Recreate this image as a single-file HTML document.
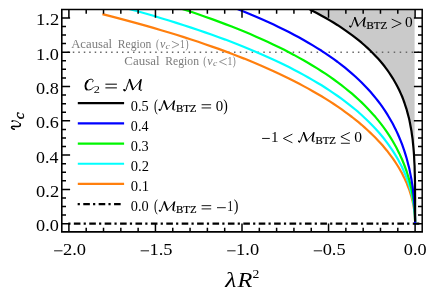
<!DOCTYPE html>
<html><head><meta charset="utf-8"><title>plot</title>
<style>html,body{margin:0;padding:0;background:#fff;overflow:hidden}body{width:427px;height:298px}text{white-space:pre}</style></head>
<body>
<svg width="427" height="298" viewBox="0 0 427 298" style="display:block;will-change:transform">
<rect width="427" height="298" fill="#fff"/>
<defs><clipPath id="ax"><rect x="61.8" y="9.5" width="360.4" height="222.4"/></clipPath></defs>
<g clip-path="url(#ax)">
<path d="M103.5,-57.3 112.2,-55.3 120.7,-53.3 129.1,-51.3 137.4,-49.3 145.5,-47.3 153.4,-45.3 161.2,-43.3 168.9,-41.2 176.4,-39.2 183.8,-37.1 191.1,-35.1 198.2,-33.0 205.1,-30.9 212.0,-28.8 218.7,-26.7 225.3,-24.6 231.7,-22.4 238.0,-20.3 244.2,-18.2 250.2,-16.0 256.1,-13.8 261.9,-11.6 267.5,-9.4 273.1,-7.2 278.5,-5.0 283.7,-2.8 288.9,-0.5 293.9,1.8 298.8,4.0 303.6,6.3 308.3,8.6 312.8,11.0 317.2,13.3 321.6,15.7 325.8,18.0 329.8,20.4 333.8,22.8 337.7,25.2 341.4,27.7 345.0,30.1 348.5,32.6 352.0,35.1 355.3,37.6 358.5,40.2 361.6,42.7 364.5,45.3 367.4,47.9 370.2,50.5 372.9,53.2 375.5,55.9 378.0,58.6 380.4,61.3 382.7,64.0 384.9,66.8 387.0,69.6 389.0,72.5 390.9,75.4 392.8,78.3 394.5,81.2 396.2,84.2 397.8,87.2 399.3,90.3 400.7,93.4 402.1,96.5 403.3,99.7 404.5,103.0 405.6,106.3 406.7,109.7 407.6,113.1 408.5,116.6 409.4,120.1 410.1,123.7 410.8,127.5 411.5,131.3 412.0,135.2 412.6,139.2 413.0,143.3 413.4,147.5 413.8,151.9 414.1,156.5 414.3,161.2 414.6,166.2 414.6,171.5 414.6,177.1 414.6,183.1 414.6,189.8 414.6,197.4 414.6,206.6 414.6,223.6 L414.6,4.5 L103.5,4.5 Z" fill="#cacaca"/>
<path d="M67.5,52.25h1.5 M72.8,52.25h1.5 M78.3,52.25h1.5 M83.8,52.25h1.5 M89.2,52.25h1.5 M94.7,52.25h1.5 M100.1,52.25h1.5 M105.6,52.25h1.5 M111.1,52.25h1.5 M116.5,52.25h1.5 M122.0,52.25h1.5 M127.4,52.25h1.5 M133.0,52.25h1.5 M138.6,52.25h1.5 M144.1,52.25h1.5 M149.7,52.25h1.5 M155.2,52.25h1.5 M160.8,52.25h1.5 M166.4,52.25h1.5 M171.9,52.25h1.5 M177.5,52.25h1.5 M183.1,52.25h1.5 M188.6,52.25h1.5 M194.2,52.25h1.5 M199.7,52.25h1.5 M205.3,52.25h1.5 M210.8,52.25h1.5 M216.3,52.25h1.5 M222.2,52.25h1.5 M228.1,52.25h1.5 M234.0,52.25h1.5 M239.8,52.25h1.5 M245.7,52.25h1.5 M251.6,52.25h1.5 M257.4,52.25h1.5 M263.3,52.25h1.5 M269.2,52.25h1.5 M275.1,52.25h1.5 M280.9,52.25h1.5 M286.8,52.25h1.5 M292.7,52.25h1.5 M298.6,52.25h1.5 M304.6,52.25h1.5 M310.6,52.25h1.5 M316.6,52.25h1.5 M322.5,52.25h1.5 M328.5,52.25h1.5 M334.5,52.25h1.5 M340.4,52.25h1.5 M346.4,52.25h1.5 M352.4,52.25h1.5 M357.9,52.25h1.5 M363.8,52.25h1.5 M369.8,52.25h1.5 M375.8,52.25h1.5 M381.8,52.25h1.5 M387.7,52.25h1.5 M393.7,52.25h1.5 M399.7,52.25h1.5 M405.7,52.25h1.5 M411.6,52.25h1.5 M417.6,52.25h1.5" stroke="#686868" stroke-width="1.5" fill="none"/>
<line x1="68.25" y1="223.65" x2="422.2" y2="223.65" stroke="#000" stroke-width="2.2" stroke-dasharray="6.6 3.2 2.2 3.405" stroke-dashoffset="9.8"/>
<path d="M103.5,14.4 112.2,16.6 120.7,18.9 129.1,21.1 137.4,23.4 145.5,25.6 153.4,27.9 161.2,30.2 168.9,32.5 176.4,34.8 183.8,37.1 191.1,39.5 198.2,41.8 205.1,44.2 212.0,46.6 218.7,48.9 225.3,51.4 231.7,53.8 238.0,56.2 244.2,58.6 250.2,61.1 256.1,63.5 261.9,66.0 267.5,68.5 273.1,70.9 278.5,73.4 283.7,75.9 288.9,78.5 293.9,81.0 298.8,83.5 303.6,86.1 308.3,88.6 312.8,91.2 317.2,93.7 321.6,96.3 325.8,98.9 329.8,101.4 333.8,104.0 337.7,106.6 341.4,109.2 345.0,111.8 348.5,114.4 352.0,117.0 355.3,119.6 358.5,122.2 361.6,124.8 364.5,127.4 367.4,130.0 370.2,132.6 372.9,135.2 375.5,137.8 378.0,140.4 380.4,143.0 382.7,145.6 384.9,148.2 387.0,150.7 389.0,153.3 390.9,155.9 392.8,158.4 394.5,160.9 396.2,163.5 397.8,166.0 399.3,168.5 400.7,171.0 402.1,173.4 403.3,175.9 404.5,178.3 405.6,180.7 406.7,183.1 407.6,185.5 408.5,187.8 409.4,190.1 410.1,192.4 410.8,194.7 411.5,196.9 412.0,199.1 412.6,201.2 413.0,203.4 413.4,205.4 413.8,207.5 414.1,209.4 414.3,211.4 414.6,213.2 414.7,215.0 414.9,216.8 415.0,218.4 415.0,220.0 415.1,221.4 415.1,222.6 415.1,223.6" fill="none" stroke="#ff7f0e" stroke-width="2.2" stroke-linejoin="round" stroke-linecap="square"/>
<path d="M103.5,2.1 112.2,4.4 120.7,6.6 129.1,8.9 137.4,11.2 145.5,13.5 153.4,15.8 161.2,18.2 168.9,20.5 176.4,22.9 183.8,25.2 191.1,27.6 198.2,30.0 205.1,32.4 212.0,34.8 218.7,37.2 225.3,39.6 231.7,42.1 238.0,44.5 244.2,47.0 250.2,49.5 256.1,52.0 261.9,54.5 267.5,57.0 273.1,59.5 278.5,62.0 283.7,64.6 288.9,67.1 293.9,69.7 298.8,72.3 303.6,74.9 308.3,77.5 312.8,80.1 317.2,82.7 321.6,85.3 325.8,88.0 329.8,90.6 333.8,93.3 337.7,96.0 341.4,98.7 345.0,101.4 348.5,104.1 352.0,106.8 355.3,109.5 358.5,112.2 361.6,115.0 364.5,117.7 367.4,120.5 370.2,123.2 372.9,126.0 375.5,128.7 378.0,131.5 380.4,134.3 382.7,137.0 384.9,139.8 387.0,142.6 389.0,145.3 390.9,148.1 392.8,150.9 394.5,153.6 396.2,156.4 397.8,159.1 399.3,161.9 400.7,164.6 402.1,167.3 403.3,170.0 404.5,172.7 405.6,175.4 406.7,178.0 407.6,180.7 408.5,183.3 409.4,185.9 410.1,188.4 410.8,191.0 411.5,193.5 412.0,195.9 412.6,198.3 413.0,200.7 413.4,203.1 413.8,205.4 414.1,207.6 414.3,209.8 414.6,211.9 414.7,213.9 414.9,215.9 415.0,217.8 415.0,219.5 415.1,221.1 415.1,222.5 415.1,223.6" fill="none" stroke="#00ffff" stroke-width="2.2" stroke-linejoin="round" stroke-linecap="square"/>
<path d="M103.5,-14.1 112.2,-11.8 120.7,-9.5 129.1,-7.2 137.4,-4.9 145.5,-2.5 153.4,-0.2 161.2,2.2 168.9,4.6 176.4,7.0 183.8,9.4 191.1,11.8 198.2,14.2 205.1,16.7 212.0,19.1 218.7,21.6 225.3,24.1 231.7,26.6 238.0,29.1 244.2,31.6 250.2,34.1 256.1,36.7 261.9,39.2 267.5,41.8 273.1,44.4 278.5,47.0 283.7,49.6 288.9,52.3 293.9,54.9 298.8,57.6 303.6,60.3 308.3,63.0 312.8,65.7 317.2,68.4 321.6,71.2 325.8,73.9 329.8,76.7 333.8,79.5 337.7,82.3 341.4,85.1 345.0,88.0 348.5,90.8 352.0,93.7 355.3,96.6 358.5,99.5 361.6,102.4 364.5,105.3 367.4,108.3 370.2,111.2 372.9,114.2 375.5,117.1 378.0,120.1 380.4,123.1 382.7,126.1 384.9,129.1 387.0,132.2 389.0,135.2 390.9,138.2 392.8,141.3 394.5,144.3 396.2,147.3 397.8,150.4 399.3,153.4 400.7,156.5 402.1,159.5 403.3,162.5 404.5,165.5 405.6,168.5 406.7,171.5 407.6,174.5 408.5,177.4 409.4,180.4 410.1,183.3 410.8,186.2 411.5,189.0 412.0,191.8 412.6,194.6 413.0,197.3 413.4,200.0 413.8,202.6 414.1,205.2 414.3,207.7 414.6,210.1 414.7,212.5 414.9,214.7 415.0,216.9 415.0,218.9 415.1,220.7 415.1,222.4 415.1,223.6" fill="none" stroke="#00f600" stroke-width="2.2" stroke-linejoin="round" stroke-linecap="square"/>
<path d="M103.5,-32.8 112.2,-30.6 120.7,-28.3 129.1,-26.1 137.4,-23.8 145.5,-21.5 153.4,-19.3 161.2,-17.0 168.9,-14.6 176.4,-12.3 183.8,-10.0 191.1,-7.6 198.2,-5.3 205.1,-2.9 212.0,-0.5 218.7,1.9 225.3,4.3 231.7,6.8 238.0,9.2 244.2,11.7 250.2,14.2 256.1,16.7 261.9,19.2 267.5,21.7 273.1,24.3 278.5,26.9 283.7,29.4 288.9,32.0 293.9,34.7 298.8,37.3 303.6,40.0 308.3,42.7 312.8,45.4 317.2,48.1 321.6,50.8 325.8,53.6 329.8,56.4 333.8,59.2 337.7,62.0 341.4,64.9 345.0,67.7 348.5,70.6 352.0,73.6 355.3,76.5 358.5,79.5 361.6,82.5 364.5,85.5 367.4,88.5 370.2,91.6 372.9,94.7 375.5,97.9 378.0,101.0 380.4,104.2 382.7,107.4 384.9,110.6 387.0,113.9 389.0,117.2 390.9,120.5 392.8,123.8 394.5,127.2 396.2,130.6 397.8,134.0 399.3,137.5 400.7,140.9 402.1,144.4 403.3,147.9 404.5,151.4 405.6,154.9 406.7,158.5 407.6,162.0 408.5,165.5 409.4,169.1 410.1,172.6 410.8,176.1 411.5,179.7 412.0,183.1 412.6,186.6 413.0,190.0 413.4,193.4 413.8,196.7 414.1,200.0 414.3,203.2 414.6,206.3 414.7,209.3 414.9,212.2 415.0,214.9 415.0,217.5 415.1,219.9 415.1,222.0 415.1,223.6" fill="none" stroke="#0000ff" stroke-width="2.2" stroke-linejoin="round" stroke-linecap="square"/>
<path d="M103.5,-57.3 112.2,-55.3 120.7,-53.3 129.1,-51.3 137.4,-49.3 145.5,-47.3 153.4,-45.3 161.2,-43.3 168.9,-41.2 176.4,-39.2 183.8,-37.1 191.1,-35.1 198.2,-33.0 205.1,-30.9 212.0,-28.8 218.7,-26.7 225.3,-24.6 231.7,-22.4 238.0,-20.3 244.2,-18.2 250.2,-16.0 256.1,-13.8 261.9,-11.6 267.5,-9.4 273.1,-7.2 278.5,-5.0 283.7,-2.8 288.9,-0.5 293.9,1.8 298.8,4.0 303.6,6.3 308.3,8.6 312.8,11.0 317.2,13.3 321.6,15.7 325.8,18.0 329.8,20.4 333.8,22.8 337.7,25.2 341.4,27.7 345.0,30.1 348.5,32.6 352.0,35.1 355.3,37.6 358.5,40.2 361.6,42.7 364.5,45.3 367.4,47.9 370.2,50.5 372.9,53.2 375.5,55.9 378.0,58.6 380.4,61.3 382.7,64.0 384.9,66.8 387.0,69.6 389.0,72.5 390.9,75.4 392.8,78.3 394.5,81.2 396.2,84.2 397.8,87.2 399.3,90.3 400.7,93.4 402.1,96.5 403.3,99.7 404.5,103.0 405.6,106.3 406.7,109.7 407.6,113.1 408.5,116.6 409.4,120.1 410.1,123.7 410.8,127.5 411.5,131.3 412.0,135.2 412.6,139.2 413.0,143.3 413.4,147.5 413.8,151.9 414.1,156.5 414.3,161.2 414.6,166.2 414.7,171.5 414.9,177.1 415.0,183.1 415.0,189.8 415.1,197.4 415.1,206.6 415.1,220.6" fill="none" stroke="#000000" stroke-width="2.2" stroke-linejoin="round" stroke-linecap="square"/>
</g>
<path d="M68.90,231.9v-8.3M68.90,9.5v8.3M86.21,231.9v-4.2M86.21,9.5v4.2M103.52,231.9v-4.2M103.52,9.5v4.2M120.83,231.9v-4.2M120.83,9.5v4.2M138.14,231.9v-4.2M138.14,9.5v4.2M155.45,231.9v-8.3M155.45,9.5v8.3M172.76,231.9v-4.2M172.76,9.5v4.2M190.07,231.9v-4.2M190.07,9.5v4.2M207.38,231.9v-4.2M207.38,9.5v4.2M224.69,231.9v-4.2M224.69,9.5v4.2M242.00,231.9v-8.3M242.00,9.5v8.3M259.31,231.9v-4.2M259.31,9.5v4.2M276.62,231.9v-4.2M276.62,9.5v4.2M293.93,231.9v-4.2M293.93,9.5v4.2M311.24,231.9v-4.2M311.24,9.5v4.2M328.55,231.9v-8.3M328.55,9.5v8.3M345.86,231.9v-4.2M345.86,9.5v4.2M363.17,231.9v-4.2M363.17,9.5v4.2M380.48,231.9v-4.2M380.48,9.5v4.2M397.79,231.9v-4.2M397.79,9.5v4.2M415.10,231.9v-8.3M415.10,9.5v8.3M61.8,223.70h8.3M422.2,223.70h-8.3M61.8,215.12h4.2M422.2,215.12h-4.2M61.8,206.55h4.2M422.2,206.55h-4.2M61.8,197.97h4.2M422.2,197.97h-4.2M61.8,189.40h8.3M422.2,189.40h-8.3M61.8,180.82h4.2M422.2,180.82h-4.2M61.8,172.25h4.2M422.2,172.25h-4.2M61.8,163.67h4.2M422.2,163.67h-4.2M61.8,155.10h8.3M422.2,155.10h-8.3M61.8,146.52h4.2M422.2,146.52h-4.2M61.8,137.95h4.2M422.2,137.95h-4.2M61.8,129.38h4.2M422.2,129.38h-4.2M61.8,120.80h8.3M422.2,120.80h-8.3M61.8,112.22h4.2M422.2,112.22h-4.2M61.8,103.65h4.2M422.2,103.65h-4.2M61.8,95.07h4.2M422.2,95.07h-4.2M61.8,86.50h8.3M422.2,86.50h-8.3M61.8,77.92h4.2M422.2,77.92h-4.2M61.8,69.35h4.2M422.2,69.35h-4.2M61.8,60.77h4.2M422.2,60.77h-4.2M61.8,52.20h8.3M422.2,52.20h-8.3M61.8,43.62h4.2M422.2,43.62h-4.2M61.8,35.05h4.2M422.2,35.05h-4.2M61.8,26.47h4.2M422.2,26.47h-4.2M61.8,17.90h8.3M422.2,17.90h-8.3" stroke="#000" stroke-width="1.5" fill="none"/>
<path d="M61.0,9.5H422.95" stroke="#000" stroke-width="1.4"/><path d="M61.0,231.9H422.95" stroke="#000" stroke-width="1.6"/><path d="M61.8,9.5V231.9" stroke="#000" stroke-width="1.6"/><path d="M422.2,9.5V231.9" stroke="#000" stroke-width="1.5"/>
<g style="font-family:'Liberation Serif',serif;font-kerning:none" fill="#000">
<path d="M54.10,250.82H62.50" fill="none" stroke="#000" stroke-width="0.9" stroke-linejoin="miter"/>
<text transform="translate(62.89,255.20) scale(1.088,1)" style="font-size:17.0px">2.0</text>
<path d="M140.65,250.82H149.05" fill="none" stroke="#000" stroke-width="0.9" stroke-linejoin="miter"/>
<text transform="translate(149.53,255.20) scale(1.084,1)" style="font-size:17.0px">1.5</text>
<path d="M227.20,250.82H235.60" fill="none" stroke="#000" stroke-width="0.9" stroke-linejoin="miter"/>
<text transform="translate(236.08,255.20) scale(1.083,1)" style="font-size:17.0px">1.0</text>
<path d="M313.75,250.82H322.15" fill="none" stroke="#000" stroke-width="0.9" stroke-linejoin="miter"/>
<text transform="translate(322.65,255.20) scale(1.083,1)" style="font-size:17.0px">0.5</text>
<text transform="translate(403.81,255.20) scale(1.072,1)" style="font-size:17.0px">0.0</text>
<text transform="translate(36.11,231.10) scale(1.072,1)" style="font-size:17.0px">0.0</text>
<text transform="translate(36.10,196.80) scale(1.088,1)" style="font-size:17.0px">0.2</text>
<text transform="translate(36.12,162.50) scale(1.052,1)" style="font-size:17.0px">0.4</text>
<text transform="translate(36.11,128.20) scale(1.065,1)" style="font-size:17.0px">0.6</text>
<text transform="translate(36.11,93.90) scale(1.072,1)" style="font-size:17.0px">0.8</text>
<text transform="translate(36.10,59.60) scale(1.073,1)" style="font-size:17.0px">1.0</text>
<text transform="translate(36.07,25.30) scale(1.089,1)" style="font-size:17.0px">1.2</text>
<path transform="translate(349.50,17.30) scale(16.10,9.90)" d="M0.02,0.89 C0.02,1.0 0.10,1.02 0.13,0.90 C0.19,0.62 0.26,0.25 0.335,0.02 M0.51,0.88 L0.965,0.03 M0.875,0.85 C0.88,0.98 0.95,0.99 1.0,0.92" fill="none" stroke="#000" stroke-width="0.85" vector-effect="non-scaling-stroke" stroke-linejoin="round" stroke-linecap="round"/>
<path transform="translate(349.50,17.30) scale(16.10,9.90)" d="M0.03,0.91 L0.06,0.95" fill="none" stroke="#000" stroke-width="1.7" vector-effect="non-scaling-stroke" stroke-linejoin="round" stroke-linecap="round"/>
<path transform="translate(349.50,17.30) scale(16.10,9.90)" d="M0.335,0.05 L0.51,0.85" fill="none" stroke="#000" stroke-width="1.7" vector-effect="non-scaling-stroke" stroke-linejoin="round" stroke-linecap="round"/>
<path transform="translate(349.50,17.30) scale(16.10,9.90)" d="M0.95,0.07 C0.92,0.3 0.87,0.6 0.875,0.85" fill="none" stroke="#000" stroke-width="1.6" vector-effect="non-scaling-stroke" stroke-linejoin="round" stroke-linecap="round"/>
<text transform="translate(366.49,28.75) scale(1.070,1)" style="font-size:10.2px" stroke="#000" stroke-width="0.2">BTZ</text>
<path d="M391.70,19.10L401.20,23.45L391.70,27.80" fill="none" stroke="#000" stroke-width="0.9" stroke-linejoin="miter"/>
<text transform="translate(405.12,27.30) scale(1.029,1)" style="font-size:14.9px">0</text>
<path d="M262.10,138.45H269.80" fill="none" stroke="#000" stroke-width="0.9" stroke-linejoin="miter"/>
<text transform="translate(270.98,142.20) scale(1.010,1)" style="font-size:14.9px">1</text>
<path d="M292.40,134.10L283.40,138.45L292.40,142.80" fill="none" stroke="#000" stroke-width="0.9" stroke-linejoin="miter"/>
<path transform="translate(298.40,132.30) scale(16.10,9.90)" d="M0.02,0.89 C0.02,1.0 0.10,1.02 0.13,0.90 C0.19,0.62 0.26,0.25 0.335,0.02 M0.51,0.88 L0.965,0.03 M0.875,0.85 C0.88,0.98 0.95,0.99 1.0,0.92" fill="none" stroke="#000" stroke-width="0.85" vector-effect="non-scaling-stroke" stroke-linejoin="round" stroke-linecap="round"/>
<path transform="translate(298.40,132.30) scale(16.10,9.90)" d="M0.03,0.91 L0.06,0.95" fill="none" stroke="#000" stroke-width="1.7" vector-effect="non-scaling-stroke" stroke-linejoin="round" stroke-linecap="round"/>
<path transform="translate(298.40,132.30) scale(16.10,9.90)" d="M0.335,0.05 L0.51,0.85" fill="none" stroke="#000" stroke-width="1.7" vector-effect="non-scaling-stroke" stroke-linejoin="round" stroke-linecap="round"/>
<path transform="translate(298.40,132.30) scale(16.10,9.90)" d="M0.95,0.07 C0.92,0.3 0.87,0.6 0.875,0.85" fill="none" stroke="#000" stroke-width="1.6" vector-effect="non-scaling-stroke" stroke-linejoin="round" stroke-linecap="round"/>
<text transform="translate(315.39,143.75) scale(1.070,1)" style="font-size:10.2px" stroke="#000" stroke-width="0.2">BTZ</text>
<path d="M349.85,132.46L340.90,136.70L349.85,140.95M340.90,143.28H349.85" fill="none" stroke="#000" stroke-width="0.9" stroke-linejoin="miter"/>
<text transform="translate(354.21,142.30) scale(1.045,1)" style="font-size:14.9px">0</text>
<text transform="translate(71.18,47.50) scale(1.097,1)" style="font-size:11.6px" fill="#7c7c7c">Acausal</text>
<text transform="translate(117.87,47.50) scale(1.000,1)" style="font-size:11.6px" fill="#7c7c7c">Region</text>
<text transform="translate(156.09,47.50) scale(0.806,1)" style="font-size:11.6px" fill="#7c7c7c">(</text>
<text transform="translate(160.03,47.50) scale(0.991,1)" style="font-size:12.2px;font-style:italic" fill="#7c7c7c">v</text>
<text transform="translate(165.59,49.20) scale(1.156,1)" style="font-size:8.6px;font-style:italic" fill="#7c7c7c">c</text>
<path d="M171.90,41.29L179.00,44.62L171.90,47.96" fill="none" stroke="#7c7c7c" stroke-width="0.8" stroke-linejoin="miter"/>
<text transform="translate(179.88,47.50) scale(0.808,1)" style="font-size:11.6px" fill="#7c7c7c">1</text>
<text transform="translate(185.40,47.50) scale(0.806,1)" style="font-size:11.6px" fill="#7c7c7c">)</text>
<text transform="translate(124.27,64.60) scale(1.118,1)" style="font-size:11.6px" fill="#7c7c7c">Causal</text>
<text transform="translate(165.36,64.60) scale(1.003,1)" style="font-size:11.6px" fill="#7c7c7c">Region</text>
<text transform="translate(203.29,64.60) scale(0.806,1)" style="font-size:11.6px" fill="#7c7c7c">(</text>
<text transform="translate(207.33,64.60) scale(0.991,1)" style="font-size:12.2px;font-style:italic" fill="#7c7c7c">v</text>
<text transform="translate(213.10,66.30) scale(1.127,1)" style="font-size:8.6px;font-style:italic" fill="#7c7c7c">c</text>
<path d="M226.70,58.39L219.50,61.72L226.70,65.06" fill="none" stroke="#7c7c7c" stroke-width="0.8" stroke-linejoin="miter"/>
<text transform="translate(227.45,64.60) scale(0.833,1)" style="font-size:11.6px" fill="#7c7c7c">1</text>
<text transform="translate(232.71,64.60) scale(0.772,1)" style="font-size:11.6px" fill="#7c7c7c">)</text>
<path transform="translate(85.10,79.00) scale(8.50,11.20)" d="M0.86,0.27 C0.99,0.20 1.0,0.03 0.72,0.02 C0.35,0.0 0.04,0.32 0.04,0.62 C0.04,0.85 0.18,0.98 0.40,0.98 C0.65,0.98 0.85,0.88 0.96,0.76" fill="none" stroke="#000" stroke-width="0.935" vector-effect="non-scaling-stroke" stroke-linejoin="round" stroke-linecap="round"/>
<path transform="translate(85.10,79.00) scale(8.50,11.20)" d="M0.30,0.18 C0.12,0.32 0.04,0.48 0.04,0.62 C0.04,0.78 0.10,0.88 0.20,0.94" fill="none" stroke="#000" stroke-width="1.87" vector-effect="non-scaling-stroke" stroke-linejoin="round" stroke-linecap="round"/>
<text transform="translate(93.76,93.00) scale(1.132,1)" style="font-size:10.8px">2</text>
<path d="M105.40,84.18H116.90M105.40,87.88H116.90" fill="none" stroke="#000" stroke-width="1.0" stroke-linejoin="miter"/>
<path transform="translate(123.60,79.20) scale(18.20,11.80)" d="M0.02,0.89 C0.02,1.0 0.10,1.02 0.13,0.90 C0.19,0.62 0.26,0.25 0.335,0.02 M0.51,0.88 L0.965,0.03 M0.875,0.85 C0.88,0.98 0.95,0.99 1.0,0.92" fill="none" stroke="#000" stroke-width="0.935" vector-effect="non-scaling-stroke" stroke-linejoin="round" stroke-linecap="round"/>
<path transform="translate(123.60,79.20) scale(18.20,11.80)" d="M0.03,0.91 L0.06,0.95" fill="none" stroke="#000" stroke-width="1.87" vector-effect="non-scaling-stroke" stroke-linejoin="round" stroke-linecap="round"/>
<path transform="translate(123.60,79.20) scale(18.20,11.80)" d="M0.335,0.05 L0.51,0.85" fill="none" stroke="#000" stroke-width="1.87" vector-effect="non-scaling-stroke" stroke-linejoin="round" stroke-linecap="round"/>
<path transform="translate(123.60,79.20) scale(18.20,11.80)" d="M0.95,0.07 C0.92,0.3 0.87,0.6 0.875,0.85" fill="none" stroke="#000" stroke-width="1.7600000000000002" vector-effect="non-scaling-stroke" stroke-linejoin="round" stroke-linecap="round"/>
<line x1="77.8" x2="124.1" y1="103.2" y2="103.2" stroke="#000000" stroke-width="2.2"/>
<text transform="translate(130.85,110.50) scale(0.961,1)" style="font-size:14.9px">0.5</text>
<line x1="77.8" x2="124.1" y1="123.4" y2="123.4" stroke="#0000ff" stroke-width="2.2"/>
<text transform="translate(130.87,130.70) scale(0.943,1)" style="font-size:14.9px">0.4</text>
<line x1="77.8" x2="124.1" y1="143.6" y2="143.6" stroke="#00f600" stroke-width="2.2"/>
<text transform="translate(130.85,150.90) scale(0.961,1)" style="font-size:14.9px">0.3</text>
<line x1="77.8" x2="124.1" y1="163.75" y2="163.75" stroke="#00ffff" stroke-width="2.2"/>
<text transform="translate(130.85,171.05) scale(0.975,1)" style="font-size:14.9px">0.2</text>
<line x1="77.8" x2="124.1" y1="183.9" y2="183.9" stroke="#ff7f0e" stroke-width="2.2"/>
<text transform="translate(130.84,191.20) scale(0.979,1)" style="font-size:14.9px">0.1</text>
<text transform="translate(154.09,110.50) scale(0.730,1)" style="font-size:16px">(</text>
<path transform="translate(158.90,100.60) scale(16.10,9.90)" d="M0.02,0.89 C0.02,1.0 0.10,1.02 0.13,0.90 C0.19,0.62 0.26,0.25 0.335,0.02 M0.51,0.88 L0.965,0.03 M0.875,0.85 C0.88,0.98 0.95,0.99 1.0,0.92" fill="none" stroke="#000" stroke-width="0.85" vector-effect="non-scaling-stroke" stroke-linejoin="round" stroke-linecap="round"/>
<path transform="translate(158.90,100.60) scale(16.10,9.90)" d="M0.03,0.91 L0.06,0.95" fill="none" stroke="#000" stroke-width="1.7" vector-effect="non-scaling-stroke" stroke-linejoin="round" stroke-linecap="round"/>
<path transform="translate(158.90,100.60) scale(16.10,9.90)" d="M0.335,0.05 L0.51,0.85" fill="none" stroke="#000" stroke-width="1.7" vector-effect="non-scaling-stroke" stroke-linejoin="round" stroke-linecap="round"/>
<path transform="translate(158.90,100.60) scale(16.10,9.90)" d="M0.95,0.07 C0.92,0.3 0.87,0.6 0.875,0.85" fill="none" stroke="#000" stroke-width="1.6" vector-effect="non-scaling-stroke" stroke-linejoin="round" stroke-linecap="round"/>
<text transform="translate(175.89,112.05) scale(1.070,1)" style="font-size:10.2px" stroke="#000" stroke-width="0.2">BTZ</text>
<path d="M201.60,104.72H211.10M201.60,107.95H211.10" fill="none" stroke="#000" stroke-width="0.9" stroke-linejoin="miter"/>
<text transform="translate(215.63,110.60) scale(0.998,1)" style="font-size:14.9px">0</text>
<text transform="translate(223.26,110.50) scale(0.852,1)" style="font-size:16px">)</text>
<line x1="77.65" x2="122.5" y1="204.1" y2="204.1" stroke="#000" stroke-width="2.2" stroke-dasharray="6.6 3.2 2.2 3.405" stroke-dashoffset="9.8"/>
<text transform="translate(130.85,211.45) scale(0.961,1)" style="font-size:14.9px">0.0</text>
<text transform="translate(154.09,211.45) scale(0.730,1)" style="font-size:16px">(</text>
<path transform="translate(159.10,201.55) scale(16.10,9.90)" d="M0.02,0.89 C0.02,1.0 0.10,1.02 0.13,0.90 C0.19,0.62 0.26,0.25 0.335,0.02 M0.51,0.88 L0.965,0.03 M0.875,0.85 C0.88,0.98 0.95,0.99 1.0,0.92" fill="none" stroke="#000" stroke-width="0.85" vector-effect="non-scaling-stroke" stroke-linejoin="round" stroke-linecap="round"/>
<path transform="translate(159.10,201.55) scale(16.10,9.90)" d="M0.03,0.91 L0.06,0.95" fill="none" stroke="#000" stroke-width="1.7" vector-effect="non-scaling-stroke" stroke-linejoin="round" stroke-linecap="round"/>
<path transform="translate(159.10,201.55) scale(16.10,9.90)" d="M0.335,0.05 L0.51,0.85" fill="none" stroke="#000" stroke-width="1.7" vector-effect="non-scaling-stroke" stroke-linejoin="round" stroke-linecap="round"/>
<path transform="translate(159.10,201.55) scale(16.10,9.90)" d="M0.95,0.07 C0.92,0.3 0.87,0.6 0.875,0.85" fill="none" stroke="#000" stroke-width="1.6" vector-effect="non-scaling-stroke" stroke-linejoin="round" stroke-linecap="round"/>
<text transform="translate(176.09,213.00) scale(1.070,1)" style="font-size:10.2px" stroke="#000" stroke-width="0.2">BTZ</text>
<path d="M201.60,205.67H211.20M201.60,208.90H211.20" fill="none" stroke="#000" stroke-width="0.9" stroke-linejoin="miter"/>
<path d="M217.00,207.70H225.80" fill="none" stroke="#000" stroke-width="0.9" stroke-linejoin="miter"/>
<text transform="translate(227.15,211.45) scale(0.801,1)" style="font-size:14.9px">1</text>
<text transform="translate(233.85,211.45) scale(0.876,1)" style="font-size:16px">)</text>
<text transform="translate(225.13,287.10) scale(1.188,1)" style="font-size:21.6px;font-style:italic">λ</text>
<text transform="translate(237.53,287.00) scale(1.159,1)" style="font-size:21.0px;font-style:italic">R</text>
<text transform="translate(252.40,277.80) scale(1.072,1)" style="font-size:12.8px">2</text>
<g transform="translate(20.6,130) rotate(-90)">
<path d="M0.7,-6.4 C1.1,-8.4 2.3,-9.5 3.2,-8.9 C4.3,-8.1 3.0,-3.6 3.8,-1.3 C4.2,-0.2 5.2,0.0 6.1,-0.5" fill="none" stroke="#000" stroke-width="1.5" stroke-linecap="round"/>
<path d="M0.6,-6.2 C0.9,-7.6 1.6,-8.6 2.4,-9.0 M6.0,-0.45 C8.0,-1.6 9.6,-5.0 9.35,-7.9" fill="none" stroke="#000" stroke-width="0.85" stroke-linecap="round"/>
<circle cx="8.85" cy="-8.3" r="0.95"/>
<text transform="translate(10.83,3.10) scale(1.085,1)" style="font-size:14.2px;font-style:italic" stroke="#000" stroke-width="0.35">c</text>
</g>
</g>
</svg>
</body></html>
